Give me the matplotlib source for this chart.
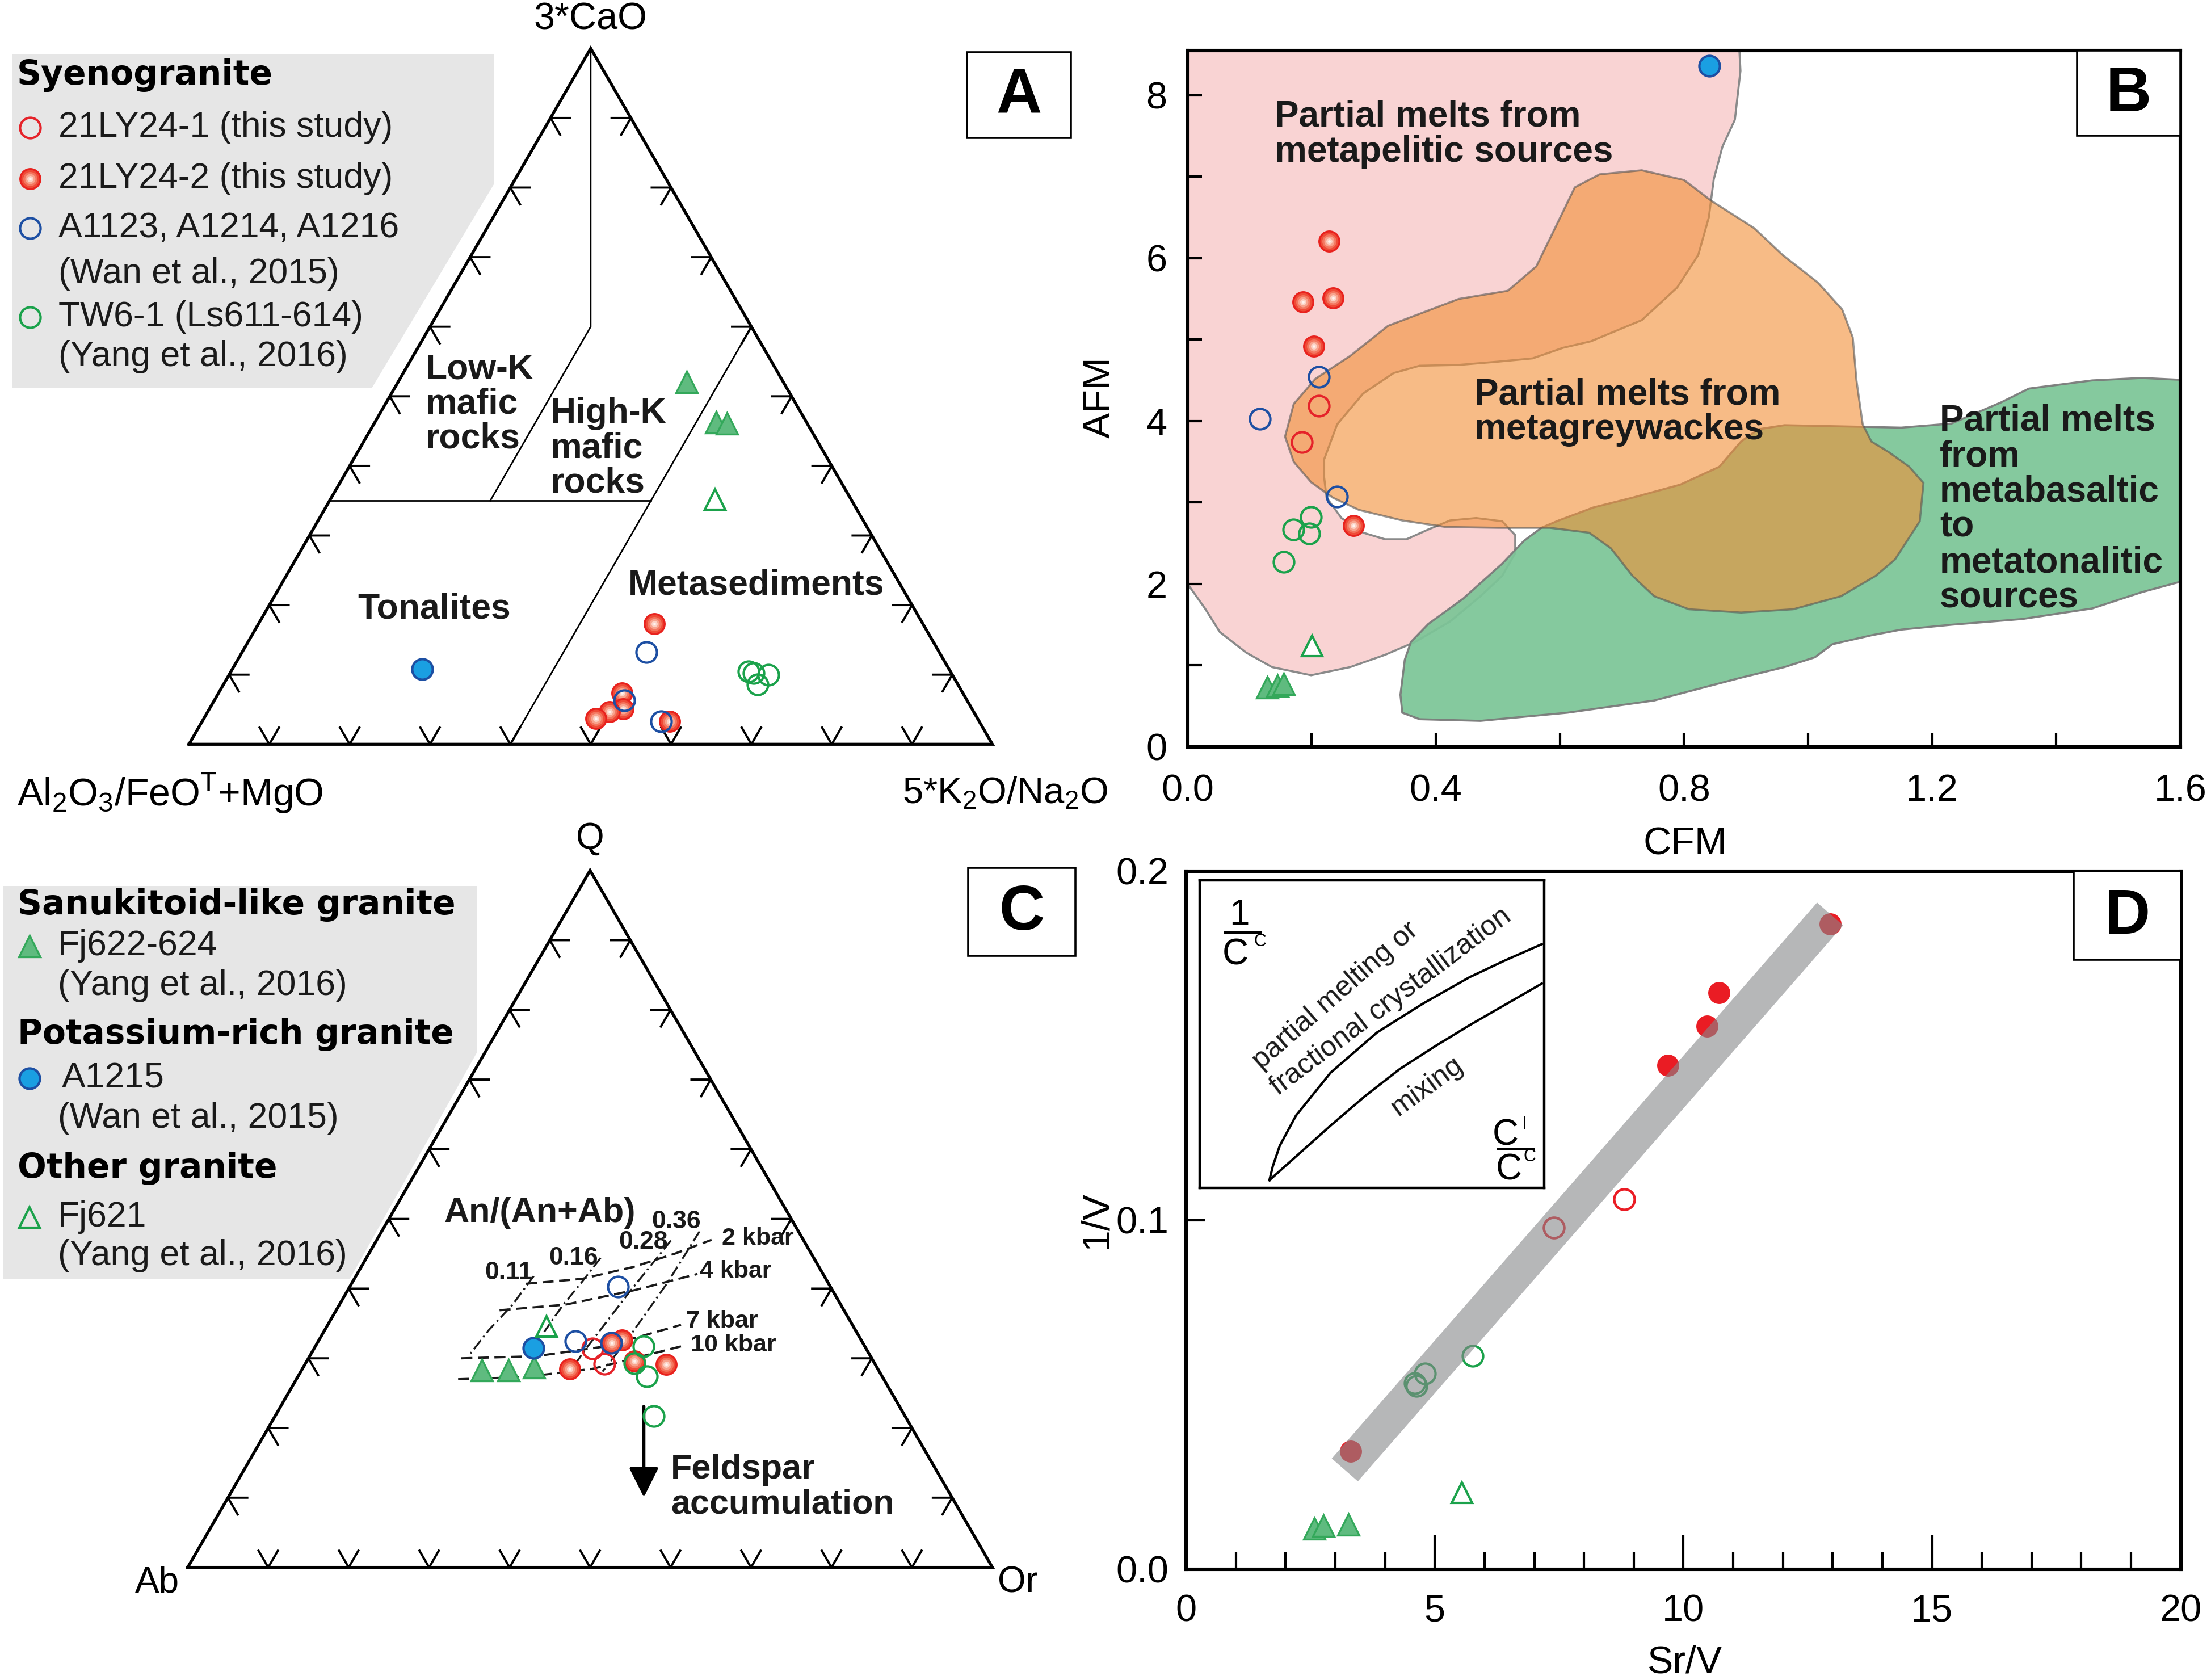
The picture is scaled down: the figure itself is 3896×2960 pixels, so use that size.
import numpy as np
import matplotlib
matplotlib.use("Agg")
import matplotlib.pyplot as plt
from matplotlib.patches import Polygon, Rectangle

W_PX, H_PX, DPI = 3896, 2960, 200

ARIAL = ['Liberation Sans', 'DejaVu Sans']
HEAVY = ['DejaVu Sans']
plt.rcParams['font.family'] = ARIAL
plt.rcParams['mathtext.default'] = 'regular'

# ---------------- data ----------------
# A: 3*CaO (top) - Al2O3/FeOT+MgO (left) - 5*K2O/Na2O (right), given as top / right fractions
a_field_top = [[1.0, 0.6, 0.35], [0.35, 0.35], [0.6, 0.0]]
a_field_right = [[0.0, 0.2, 0.2], [0.0, 0.4], [0.4, 0.4]]
a_red2_top = [0.173, 0.074, 0.051, 0.047, 0.037, 0.033]
a_red2_right = [0.493, 0.502, 0.515, 0.500, 0.488, 0.582]
a_blue_top = [0.132, 0.063, 0.033]
a_blue_right = [0.503, 0.510, 0.571]
a_green_top = [0.105, 0.102, 0.100, 0.086]
a_green_right = [0.644, 0.652, 0.671, 0.665]
a_a1215_top = [0.108]
a_a1215_right = [0.236]
a_fj622_top = [0.521, 0.463, 0.461]
a_fj622_right = [0.359, 0.425, 0.439]
a_fj621_top = [0.352]
a_fj621_right = [0.479]

# B: CFM vs AFM
pink_x = [0.0, 0.0, 0.889, 0.891, 0.882, 0.862, 0.848, 0.840, 0.823, 0.789, 0.732, 0.650, 0.605, 0.556, 0.500,
          0.437, 0.374, 0.332, 0.283, 0.241, 0.220, 0.220, 0.224, 0.248, 0.283, 0.318, 0.353, 0.388, 0.423,
          0.465, 0.507, 0.528, 0.528, 0.507, 0.472, 0.423, 0.367, 0.318, 0.262, 0.199, 0.136, 0.094, 0.052, 0.028]
pink_y = [2.00, 8.60, 8.60, 8.30, 7.70, 7.37, 6.97, 6.50, 6.04, 5.64, 5.24, 4.98, 4.90, 4.77, 4.73,
          4.69, 4.68, 4.59, 4.34, 3.96, 3.53, 3.31, 3.06, 2.81, 2.63, 2.55, 2.55, 2.67, 2.78,
          2.81, 2.77, 2.60, 2.38, 2.10, 1.85, 1.54, 1.29, 1.13, 0.98, 0.88, 0.98, 1.16, 1.41, 1.70]
orange_x = [0.157, 0.171, 0.199, 0.234, 0.276, 0.346, 0.416, 0.500, 0.584, 0.647, 0.682, 0.717, 0.752, 0.808,
            0.892, 0.976, 1.053, 1.109, 1.140, 1.180, 1.186, 1.163, 1.130, 1.102, 1.088, 1.078, 1.072, 1.055,
            1.016, 0.959, 0.913, 0.845, 0.800, 0.732, 0.664, 0.624, 0.596, 0.562, 0.516, 0.437, 0.323, 0.262,
            0.206, 0.171]
orange_y = [3.81, 3.50, 3.25, 3.06, 2.91, 2.78, 2.70, 2.69, 2.69, 2.63, 2.44, 2.10, 1.85, 1.69,
            1.65, 1.69, 1.85, 2.10, 2.30, 2.77, 3.24, 3.44, 3.62, 3.75, 3.96, 4.50, 5.03, 5.37,
            5.70, 6.04, 6.37, 6.70, 6.96, 7.08, 7.03, 6.87, 6.43, 5.90, 5.60, 5.50, 5.17, 4.80,
            4.52, 4.21]
green_x = [0.343, 0.350, 0.360, 0.388, 0.444, 0.507, 0.542, 0.570, 0.598, 0.654, 0.717, 0.794, 0.857, 0.892,
           0.920, 0.962, 1.088, 1.150, 1.231, 1.311, 1.356, 1.458, 1.538, 1.62, 1.62, 1.538, 1.458, 1.345,
           1.231, 1.150, 1.102, 1.039, 1.011, 0.962, 0.892, 0.752, 0.612, 0.472, 0.374, 0.346]
green_y = [0.64, 1.07, 1.29, 1.51, 1.82, 2.25, 2.53, 2.69, 2.78, 2.94, 3.06, 3.22, 3.44, 3.75,
           3.90, 3.95, 3.93, 3.92, 3.97, 4.23, 4.40, 4.50, 4.53, 4.50, 2.07, 1.90, 1.70, 1.57,
           1.50, 1.44, 1.37, 1.26, 1.10, 0.98, 0.85, 0.57, 0.42, 0.32, 0.34, 0.42]
b_red1_x, b_red1_y = [0.212, 0.184], [4.19, 3.74]
b_red2_x, b_red2_y = [0.228, 0.186, 0.234, 0.203, 0.267], [6.21, 5.46, 5.51, 4.92, 2.72]
b_blue_x, b_blue_y = [0.116, 0.212, 0.241], [4.03, 4.54, 3.07]
b_a1215_x, b_a1215_y = [0.841], [8.36]
b_green_x, b_green_y = [0.199, 0.170, 0.196, 0.155], [2.82, 2.67, 2.62, 2.27]
b_fj621_x, b_fj621_y = [0.201], [1.24]
b_fj622_x, b_fj622_y = [0.128, 0.145, 0.155], [0.73, 0.75, 0.77]

# C: Q (top) - Ab (left) - Or (right)
c_isobar_top = [[0.407, 0.414, 0.431, 0.450, 0.470], [0.369, 0.377, 0.398, 0.421],
                [0.300, 0.303, 0.317, 0.348], [0.270, 0.273, 0.285, 0.318]]
c_isobar_right = [[0.217, 0.283, 0.338, 0.380, 0.416], [0.203, 0.281, 0.357, 0.423],
                  [0.190, 0.281, 0.360, 0.439], [0.201, 0.281, 0.361, 0.457]]
c_an_top = [[0.418, 0.376, 0.341, 0.307], [0.444, 0.409, 0.376, 0.338],
            [0.469, 0.393, 0.314, 0.295], [0.482, 0.409, 0.327, 0.281]]
c_an_right = [[0.221, 0.215, 0.204, 0.198], [0.291, 0.285, 0.278, 0.274],
              [0.366, 0.351, 0.338, 0.336], [0.395, 0.392, 0.383, 0.375]]
c_fj622_top, c_fj622_right = [0.283, 0.283, 0.287], [0.224, 0.257, 0.287]
c_fj621_top, c_fj621_right = [0.346], [0.273]
c_a1215_top, c_a1215_right = [0.315], [0.272]
c_blue_top, c_blue_right = [0.403, 0.325, 0.322], [0.333, 0.319, 0.365]
c_red2_top, c_red2_right = [0.326, 0.322, 0.285, 0.296, 0.291], [0.377, 0.366, 0.332, 0.407, 0.449]
c_red1_top, c_red1_right = [0.314, 0.292], [0.346, 0.372]
c_green_top, c_green_right = [0.317, 0.293, 0.274, 0.217], [0.408, 0.409, 0.434, 0.471]

# D: Sr/V vs 1/V
d_band_x, d_band_y = [3.19, 12.95], [0.0284, 0.1877]
d_red2_x, d_red2_y = [12.95, 10.72, 10.47, 9.69, 3.31], [0.1848, 0.1652, 0.1555, 0.1444, 0.0337]
d_red1_x, d_red1_y = [8.81, 7.39], [0.1060, 0.0979]
d_green_x, d_green_y = [4.60, 4.63, 4.80, 5.76], [0.0532, 0.0525, 0.0560, 0.0611]
d_fj621_x, d_fj621_y = [5.55], [0.0219]
d_fj622_x, d_fj622_y = [2.58, 2.76, 3.26], [0.0117, 0.0125, 0.0128]
# inset model curves (axes fractions)
pm_u = [0.203, 0.213, 0.233, 0.280, 0.381, 0.515, 0.650, 0.784, 0.884, 0.993]
pm_v = [0.025, 0.071, 0.137, 0.235, 0.375, 0.505, 0.600, 0.685, 0.738, 0.792]
mix_u = [0.203, 0.381, 0.481, 0.582, 0.683, 0.784, 0.993]
mix_v = [0.025, 0.203, 0.299, 0.387, 0.460, 0.529, 0.664]

# ---------------- styles ----------------
RED = '#e5232a'
BLUE = '#1d4fa3'
BLUE_FILL = '#1a9fe2'
GREEN = '#1ba24b'
GREEN_FILL = '#5fbb7f'
GREEN_EDGE = '#33a85a'
MS = 13

TRI_A = (333.0, 1311.3, 1415.7)
TRI_C = (330.8, 2761.6, 1417.9)


def tern(top, right, tri):
    x0, y0, s = tri
    top = np.asarray(top, float)
    right = np.asarray(right, float)
    return x0 + s * (right + top / 2), y0 - s * np.sqrt(3) / 2 * top


# shaded ball: stacked discs fading from red rim to a pale centre
BALL = [(1.0, '#e8221e'), (0.82, '#ef4b37'), (0.64, '#f4765f'), (0.46, '#f8a48e'), (0.28, '#fcd3c6'),
        (0.12, '#fff3ef')]


def red_ball(ax, xs, ys, z=6, ms=MS):
    for x, y in zip(xs, ys):
        for k, col in BALL:
            ax.plot([x], [y], 'o', ms=ms * k, mfc=col, mec='none', zorder=z)


def sym(ax, x, y, kind, z=6, tri_face='none'):
    if kind == 'red1':
        ax.plot(x, y, 'o', ls='none', ms=MS, mfc='none', mec=RED, mew=1.5, zorder=z)
    elif kind == 'red2':
        red_ball(ax, x, y, z, ms=MS + 1)
    elif kind == 'blue':
        ax.plot(x, y, 'o', ls='none', ms=MS, mfc='none', mec=BLUE, mew=1.5, zorder=z)
    elif kind == 'a1215':
        ax.plot(x, y, 'o', ls='none', ms=MS, mfc=BLUE_FILL, mec=BLUE, mew=1.5, zorder=z)
    elif kind == 'green':
        ax.plot(x, y, 'o', ls='none', ms=MS, mfc='none', mec=GREEN, mew=1.5, zorder=z)
    elif kind == 'fj622':
        ax.plot(x, y, '^', ls='none', ms=MS + 1, mfc=GREEN_FILL, mec=GREEN_EDGE, mew=1.2, zorder=z)
    elif kind == 'fj621':
        ax.plot(x, y, '^', ls='none', ms=MS, mfc=tri_face, mec=GREEN, mew=1.5, zorder=z)


def draw_frame(ax, tri):
    x0, y0, s = tri
    h = s * np.sqrt(3) / 2
    ax.plot([x0, x0 + s, x0 + s / 2, x0], [y0, y0, y0 - h, y0], color='k', lw=1.9,
            solid_joinstyle='miter', zorder=3)
    L = 34
    for f in np.arange(1, 10) / 10:
        bx, by = x0 + s * f, y0
        ax.plot([bx - 0.5 * L, bx, bx + 0.5 * L], [by - 0.866 * L, by, by - 0.866 * L], color='k', lw=1.4, zorder=3)
        lx, ly = x0 + s / 2 * f, y0 - h * f
        ax.plot([lx + L, lx, lx + 0.5 * L], [ly, ly, ly + 0.866 * L], color='k', lw=1.4, zorder=3)
        rx, ry = x0 + s - s / 2 * f, y0 - h * f
        ax.plot([rx - L, rx, rx - 0.5 * L], [ry, ry, ry + 0.866 * L], color='k', lw=1.4, zorder=3)


fig = plt.figure(figsize=(W_PX / DPI, H_PX / DPI), dpi=DPI)


def box(x0, y0, x1, y1):
    return [x0 / W_PX, 1 - y1 / H_PX, (x1 - x0) / W_PX, (y1 - y0) / H_PX]


def ftext(x, y, s, **kw):
    return fig.text(x / W_PX, 1 - y / H_PX, s, **kw)


def letter_box(x0, y0, x1, y1, s):
    fig.add_artist(Rectangle((x0 / W_PX, 1 - y1 / H_PX), (x1 - x0) / W_PX, (y1 - y0) / H_PX,
                             transform=fig.transFigure, fc='white', ec='k', lw=1.3, zorder=10))
    ftext((x0 + x1) / 2, (y0 + y1) / 2 + 3, s, ha='center', va='center', fontsize=40,
          fontweight='bold', zorder=11)


# pixel axes for the two ternary panels and their legends
ax0 = fig.add_axes([0, 0, 1, 1])
ax0.set_xlim(0, W_PX)
ax0.set_ylim(H_PX, 0)
ax0.axis('off')

TXT = '#1a1a1a'

# ---------------- panel A ----------------
ax0.add_patch(Polygon([(22, 95), (870, 95), (870, 325), (655, 684), (22, 684)], closed=True,
                      fc='#e6e6e6', ec='none', zorder=0))
draw_frame(ax0, TRI_A)
for tt, rr in zip(a_field_top, a_field_right):
    x, y = tern(tt, rr, TRI_A)
    ax0.plot(x, y, color='k', lw=1.0, zorder=2)

sym(ax0, *tern(a_fj622_top, a_fj622_right, TRI_A), 'fj622')
sym(ax0, *tern(a_fj621_top, a_fj621_right, TRI_A), 'fj621')
sym(ax0, *tern(a_green_top, a_green_right, TRI_A), 'green')
sym(ax0, *tern(a_red2_top, a_red2_right, TRI_A), 'red2')
sym(ax0, *tern(a_blue_top, a_blue_right, TRI_A), 'blue')
sym(ax0, *tern(a_a1215_top, a_a1215_right, TRI_A), 'a1215')

bold = dict(fontweight='bold', fontsize=22.5, color=TXT, zorder=4)
ax0.text(750, 712, 'Low-K\nmafic\nrocks', ha='left', va='center', linespacing=1.05, **bold)
ax0.text(970, 790, 'High-K\nmafic\nrocks', ha='left', va='center', linespacing=1.05, **bold)
ax0.text(765, 1073, 'Tonalites', ha='center', va='center', **bold)
ax0.text(1333, 1031, 'Metasediments', ha='center', va='center', **bold)

ax0.text(1040, 34, '3*CaO', ha='center', va='center', fontsize=24)
ax0.text(30, 1398, 'Al$_2$O$_3$/FeO$^T$+MgO', ha='left', va='center', fontsize=24.5)
ax0.text(1590, 1398, '5*K$_2$O/Na$_2$O', ha='left', va='center', fontsize=23.5)

ax0.text(30, 133, 'Syenogranite', ha='left', va='center', fontsize=21.5, fontweight='bold', family=HEAVY)
leg_a = [('red1', 225, '21LY24-1 (this study)'), ('red2', 315, '21LY24-2 (this study)'),
         ('blue', 402, 'A1123, A1214, A1216'), (None, 483, '(Wan et al., 2015)'),
         ('green', 559, 'TW6-1 (Ls611-614)'), (None, 628, '(Yang et al., 2016)')]
for kind, yy, label in leg_a:
    if kind:
        sym(ax0, [53], [yy], kind)
    ax0.text(103, yy, label, ha='left', va='center', fontsize=22.5, color=TXT)

ax0.add_patch(Rectangle((1704, 92), 183, 151, fc='white', ec='k', lw=1.3, zorder=4))
ax0.text(1795.5, 170, 'A', ha='center', va='center', fontsize=40, fontweight='bold', zorder=5)

# ---------------- panel C ----------------
ax0.add_patch(Polygon([(6, 1561), (840, 1561), (840, 1855), (616, 2254), (6, 2254)], closed=True,
                      fc='#e6e6e6', ec='none', zorder=0))
draw_frame(ax0, TRI_C)
for tt, rr in zip(c_isobar_top, c_isobar_right):
    x, y = tern(tt, rr, TRI_C)
    ax0.plot(x, y, color=TXT, lw=1.4, ls=(0, (5, 2.5)), zorder=2)
for tt, rr in zip(c_an_top, c_an_right):
    x, y = tern(tt, rr, TRI_C)
    ax0.plot(x, y, color=TXT, lw=1.2, ls=(0, (6, 2, 1, 2)), zorder=2)

sym(ax0, *tern(c_fj622_top, c_fj622_right, TRI_C), 'fj622')
sym(ax0, *tern(c_red2_top, c_red2_right, TRI_C), 'red2')
sym(ax0, *tern(c_red1_top, c_red1_right, TRI_C), 'red1')
sym(ax0, *tern(c_green_top, c_green_right, TRI_C), 'green')
sym(ax0, *tern(c_blue_top, c_blue_right, TRI_C), 'blue')
sym(ax0, *tern(c_a1215_top, c_a1215_right, TRI_C), 'a1215')
sym(ax0, *tern(c_fj621_top, c_fj621_right, TRI_C), 'fj621')

ax0.text(782, 2137, 'An/(An+Ab)', ha='left', va='center', fontsize=22, fontweight='bold', color=TXT)
small = dict(ha='center', va='center', fontsize=16, fontweight='bold', color=TXT, zorder=4)
for s, xx, yy in [('0.36', 1192, 2152), ('0.28', 1133, 2188), ('0.16', 1011, 2217), ('0.11', 896, 2243)]:
    ax0.text(xx, yy, s, **small)
small['ha'] = 'left'
small['fontsize'] = 15.5
for s, xx, yy in [('2 kbar', 1272, 2182), ('4 kbar', 1233, 2240), ('7 kbar', 1209, 2328),
                  ('10 kbar', 1217, 2370)]:
    ax0.text(xx, yy, s, **small)

ax0.annotate('', xy=(1134.5, 2638), xytext=(1134.5, 2478),
             arrowprops=dict(arrowstyle='-|>', lw=2, color='k', mutation_scale=40, shrinkA=0, shrinkB=0))
ax0.text(1182, 2620, 'Feldspar\naccumulation', ha='left', va='center', fontsize=22,
         fontweight='bold', linespacing=1.1, color=TXT)

ax0.text(1040, 1478, 'Q', ha='center', va='center', fontsize=23)
ax0.text(277, 2789, 'Ab', ha='center', va='center', fontsize=23)
ax0.text(1793, 2789, 'Or', ha='center', va='center', fontsize=23)

hdr = dict(ha='left', va='center', fontsize=21.5, fontweight='bold', family=HEAVY)
ax0.text(31, 1594, 'Sanukitoid-like granite', **hdr)
ax0.text(31, 1823, 'Potassium-rich granite', **hdr)
ax0.text(31, 2059, 'Other granite', **hdr)
leg_c = [('fj622', 1667, 102, 'Fj622-624'), (None, 1736, 102, '(Yang et al., 2016)'),
         ('a1215', 1900, 109, 'A1215'), (None, 1970, 102, '(Wan et al., 2015)'),
         ('fj621', 2145, 102, 'Fj621'), (None, 2213, 102, '(Yang et al., 2016)')]
for kind, yy, xx, label in leg_c:
    if kind:
        sym(ax0, [52], [yy], kind)
    ax0.text(xx, yy, label, ha='left', va='center', fontsize=22.5, color=TXT)

ax0.add_patch(Rectangle((1706, 1529), 189, 155, fc='white', ec='k', lw=1.3, zorder=4))
ax0.text(1800.5, 1609, 'C', ha='center', va='center', fontsize=40, fontweight='bold', zorder=5)

# ---------------- panel B ----------------
axB = fig.add_axes(box(2092.7, 89, 3842, 1316))
axB.add_patch(Polygon(np.column_stack([pink_x, pink_y]), closed=True, fc='#f9d3d3', ec='#8a8a8a',
                      lw=1.3, zorder=1))
axB.add_patch(Polygon(np.column_stack([green_x, green_y]), closed=True, fc='#7cc597', ec='#7a7a7a',
                      lw=1.3, alpha=0.93, zorder=2))
axB.add_patch(Polygon(np.column_stack([orange_x, orange_y]), closed=True, fc='#f28f35', ec='#555555',
                      lw=1.3, alpha=0.6, zorder=3))
sym(axB, b_fj622_x, b_fj622_y, 'fj622')
sym(axB, b_fj621_x, b_fj621_y, 'fj621', tri_face='white')
sym(axB, b_green_x, b_green_y, 'green')
sym(axB, b_red1_x, b_red1_y, 'red1')
sym(axB, b_red2_x, b_red2_y, 'red2')
sym(axB, b_blue_x, b_blue_y, 'blue')
sym(axB, b_a1215_x, b_a1215_y, 'a1215')
axB.set_xlim(0, 1.6)
axB.set_ylim(0, 8.55)
axB.set_xticks([0, 0.4, 0.8, 1.2, 1.6])
axB.set_xticklabels(['0.0', '0.4', '0.8', '1.2', '1.6'])
axB.set_xticks(np.arange(0.2, 1.6, 0.4), minor=True)
axB.set_yticks([0, 2, 4, 6, 8])
axB.set_yticks([1, 3, 5, 7], minor=True)
axB.tick_params(which='both', direction='in', length=9, width=1.5, labelsize=24)
axB.tick_params(axis='x', pad=17)
axB.tick_params(axis='y', pad=13)
for sp in axB.spines.values():
    sp.set_linewidth(2.2)
tb = dict(fontsize=23, fontweight='bold', color=TXT, ha='left', va='center', linespacing=1.05, zorder=8)
axB.text(0.14, 7.52, 'Partial melts from\nmetapelitic sources', **tb)
axB.text(0.462, 4.11, 'Partial melts from\nmetagreywackes', **tb)
axB.text(1.212, 2.915, 'Partial melts\nfrom\nmetabasaltic\nto\nmetatonalitic\nsources', **tb)
ftext(2969, 1488, 'CFM', ha='center', va='center', fontsize=24.5)
ftext(1938, 700, 'AFM', ha='center', va='center', fontsize=24.5, rotation=90)
letter_box(3660, 89, 3842, 239, 'B')

# ---------------- panel D ----------------
axD = fig.add_axes(box(2090.2, 1534.7, 3842.6, 2764.5))
sym(axD, d_fj622_x, d_fj622_y, 'fj622')
sym(axD, d_fj621_x, d_fj621_y, 'fj621')
axD.plot(d_green_x, d_green_y, 'o', ls='none', ms=MS, mfc='none', mec=GREEN, mew=1.5, zorder=3)
axD.plot(d_red1_x, d_red1_y, 'o', ls='none', ms=MS, mfc='none', mec='#ea1c24', mew=1.6, zorder=3)
axD.plot(d_red2_x, d_red2_y, 'o', ls='none', ms=MS + 1, mfc='#ea1c24', mec='none', zorder=3)
axD.plot(d_band_x, d_band_y, color='#86878a', lw=22, alpha=0.6, solid_capstyle='butt', zorder=4)
axD.set_xlim(0, 20)
axD.set_ylim(0, 0.2)
axD.set_xticks([0, 5, 10, 15, 20])
axD.set_xticks(np.arange(1, 20), minor=True)
axD.set_yticks([0, 0.1, 0.2])
axD.set_yticklabels(['0.0', '0.1', '0.2'])
axD.tick_params(axis='x', which='major', direction='in', length=22, width=1.5, labelsize=24, pad=16)
axD.tick_params(axis='x', which='minor', direction='in', length=11, width=1.5)
axD.tick_params(axis='y', which='major', direction='in', length=12, width=1.5, labelsize=24, pad=11)
for sp in axD.spines.values():
    sp.set_linewidth(2.2)
ftext(2969, 2930, 'Sr/V', ha='center', va='center', fontsize=24.5)
ftext(1932, 2149, '1/V', ha='center', va='center', fontsize=24.5, rotation=90)

axI = fig.add_axes(box(2113.5, 1550.7, 2721.2, 2092.9))
axI.set_xlim(0, 1)
axI.set_ylim(0, 1)
axI.set_xticks([])
axI.set_yticks([])
for sp in axI.spines.values():
    sp.set_linewidth(1.6)
axI.plot(pm_u, pm_v, color='k', lw=1.5)
axI.plot(mix_u, mix_v, color='k', lw=1.5)
ti = dict(fontsize=18, ha='center', va='center', rotation_mode='anchor', color=TXT)
axI.text(0.395, 0.625, 'partial melting or', rotation=41, **ti)
axI.text(0.555, 0.605, 'fractional crystallization', rotation=37, **ti)
axI.text(0.660, 0.330, 'mixing', rotation=36, **ti)
axI.text(0.1155, 0.885, '1', ha='center', va='center', fontsize=23)
axI.plot([0.075, 0.175], [0.829, 0.829], color='k', lw=1.8)
axI.text(0.105, 0.756, 'C', ha='center', va='center', fontsize=23)
axI.text(0.176, 0.80, 'C', ha='center', va='center', fontsize=11)
axI.text(0.888, 0.170, 'C', ha='center', va='center', fontsize=23)
axI.text(0.942, 0.205, 'l', ha='center', va='center', fontsize=11)
axI.plot([0.864, 0.966], [0.127, 0.127], color='k', lw=1.8)
axI.text(0.898, 0.058, 'C', ha='center', va='center', fontsize=23)
axI.text(0.958, 0.101, 'C', ha='center', va='center', fontsize=11)
letter_box(3654, 1534.7, 3842.6, 1690.7, 'D')

fig.savefig('out.png', dpi=DPI)
